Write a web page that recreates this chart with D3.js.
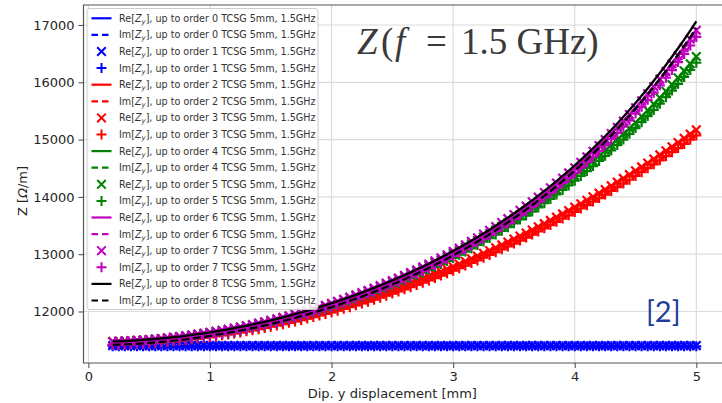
<!DOCTYPE html>
<html>
<head>
<meta charset="utf-8">
<script src="https://d3js.org/d3.v7.min.js"></script>
<style>
  body { margin: 0; background: #fff; }
  svg { display: block; }
</style>
</head>
<body>
<svg id="chart" width="722" height="403"></svg>
<script>
// dipole y displacement [mm]
const dispY = [
  0.20, 0.25, 0.30, 0.35, 0.40, 0.45, 0.50, 0.55, 0.60, 0.65,
  0.70, 0.75, 0.80, 0.85, 0.90, 0.95, 1.00, 1.05, 1.10, 1.15,
  1.20, 1.25, 1.30, 1.35, 1.40, 1.45, 1.50, 1.55, 1.60, 1.65,
  1.70, 1.75, 1.80, 1.85, 1.90, 1.95, 2.00, 2.05, 2.10, 2.15,
  2.20, 2.25, 2.30, 2.35, 2.40, 2.45, 2.50, 2.55, 2.60, 2.65,
  2.70, 2.75, 2.80, 2.85, 2.90, 2.95, 3.00, 3.05, 3.10, 3.15,
  3.20, 3.25, 3.30, 3.35, 3.40, 3.45, 3.50, 3.55, 3.60, 3.65,
  3.70, 3.75, 3.80, 3.85, 3.90, 3.95, 4.00, 4.05, 4.10, 4.15,
  4.20, 4.25, 4.30, 4.35, 4.40, 4.45, 4.50, 4.55, 4.60, 4.65,
  4.70, 4.75, 4.80, 4.85, 4.90, 4.95, 5.00
];

// order 0 / 1 (blue)
const blueRe = [
  11405, 11405, 11405, 11405, 11405, 11405, 11405, 11405, 11405, 11405,
  11405, 11405, 11405, 11405, 11405, 11405, 11405, 11405, 11405, 11405,
  11405, 11405, 11405, 11405, 11405, 11405, 11405, 11405, 11405, 11405,
  11405, 11405, 11405, 11405, 11405, 11405, 11405, 11405, 11405, 11405,
  11405, 11405, 11405, 11405, 11405, 11405, 11405, 11405, 11405, 11405,
  11405, 11405, 11405, 11405, 11405, 11405, 11405, 11405, 11405, 11405,
  11405, 11405, 11405, 11405, 11405, 11405, 11405, 11405, 11405, 11405,
  11405, 11405, 11405, 11405, 11405, 11405, 11405, 11405, 11405, 11405,
  11405, 11405, 11405, 11405, 11405, 11405, 11405, 11405, 11405, 11405,
  11405, 11405, 11405, 11405, 11405, 11405, 11405
];
const blueIm = [
  11392, 11392, 11392, 11392, 11392, 11392, 11392, 11392, 11392, 11392,
  11392, 11392, 11392, 11392, 11392, 11392, 11392, 11392, 11392, 11392,
  11392, 11392, 11392, 11392, 11392, 11392, 11392, 11392, 11392, 11392,
  11392, 11392, 11392, 11392, 11392, 11392, 11392, 11392, 11392, 11392,
  11392, 11392, 11392, 11392, 11392, 11392, 11392, 11392, 11392, 11392,
  11392, 11392, 11392, 11392, 11392, 11392, 11392, 11392, 11392, 11392,
  11392, 11392, 11392, 11392, 11392, 11392, 11392, 11392, 11392, 11392,
  11392, 11392, 11392, 11392, 11392, 11392, 11392, 11392, 11392, 11392,
  11392, 11392, 11392, 11392, 11392, 11392, 11392, 11392, 11392, 11392,
  11392, 11392, 11392, 11392, 11392, 11392, 11392
];

// order 2 / 3 (red)
const redRe = [
  11476, 11479, 11483, 11488, 11493, 11499, 11506, 11514, 11522, 11531,
  11541, 11552, 11563, 11575, 11588, 11601, 11615, 11630, 11646, 11662,
  11679, 11697, 11715, 11735, 11755, 11775, 11797, 11819, 11842, 11866,
  11890, 11915, 11941, 11968, 11995, 12023, 12052, 12081, 12112, 12143,
  12175, 12207, 12240, 12274, 12309, 12345, 12381, 12418, 12456, 12494,
  12533, 12573, 12614, 12656, 12698, 12741, 12785, 12829, 12875, 12921,
  12967, 13015, 13063, 13112, 13162, 13213, 13264, 13316, 13369, 13423,
  13478, 13533, 13589, 13646, 13703, 13762, 13821, 13881, 13941, 14003,
  14065, 14128, 14192, 14257, 14322, 14388, 14455, 14523, 14592, 14661,
  14732, 14803, 14875, 14947, 15021, 15095, 15170
];
const redIm = [
  11416, 11419, 11423, 11428, 11433, 11439, 11446, 11454, 11461, 11470,
  11480, 11491, 11502, 11514, 11527, 11540, 11554, 11568, 11584, 11600,
  11617, 11635, 11653, 11672, 11692, 11712, 11734, 11756, 11778, 11802,
  11826, 11851, 11876, 11903, 11930, 11957, 11986, 12015, 12046, 12076,
  12108, 12140, 12172, 12206, 12241, 12276, 12312, 12349, 12386, 12424,
  12462, 12502, 12543, 12584, 12626, 12668, 12712, 12755, 12801, 12846,
  12892, 12940, 12987, 13036, 13085, 13136, 13186, 13238, 13290, 13343,
  13398, 13452, 13508, 13564, 13621, 13679, 13737, 13797, 13856, 13918,
  13979, 14041, 14105, 14169, 14233, 14299, 14365, 14432, 14501, 14569,
  14639, 14710, 14781, 14852, 14925, 14999, 15073
];

// order 4 / 5 (green)
const greenRe = [
  11477, 11480, 11485, 11490, 11496, 11503, 11511, 11519, 11528, 11539,
  11550, 11562, 11575, 11589, 11602, 11617, 11634, 11651, 11668, 11687,
  11706, 11726, 11747, 11769, 11792, 11816, 11840, 11866, 11892, 11919,
  11947, 11976, 12006, 12036, 12068, 12100, 12134, 12168, 12203, 12240,
  12277, 12315, 12354, 12394, 12435, 12477, 12520, 12565, 12610, 12656,
  12703, 12752, 12801, 12852, 12903, 12956, 13010, 13066, 13122, 13180,
  13239, 13299, 13360, 13423, 13487, 13552, 13619, 13688, 13757, 13828,
  13901, 13975, 14051, 14129, 14208, 14288, 14371, 14455, 14541, 14629,
  14719, 14810, 14904, 15000, 15097, 15197, 15299, 15403, 15510, 15619,
  15730, 15844, 15960, 16079, 16200, 16324, 16451
];
const greenIm = [
  11417, 11420, 11425, 11430, 11436, 11443, 11451, 11459, 11467, 11478,
  11489, 11501, 11514, 11528, 11541, 11556, 11572, 11589, 11606, 11625,
  11644, 11663, 11684, 11706, 11729, 11753, 11776, 11802, 11828, 11855,
  11882, 11911, 11941, 11970, 12002, 12034, 12067, 12101, 12136, 12172,
  12209, 12247, 12285, 12325, 12365, 12407, 12449, 12494, 12539, 12584,
  12631, 12679, 12728, 12778, 12829, 12881, 12935, 12990, 13045, 13103,
  13161, 13221, 13281, 13343, 13407, 13471, 13538, 13606, 13674, 13744,
  13817, 13890, 13965, 14042, 14121, 14200, 14282, 14365, 14450, 14537,
  14627, 14717, 14810, 14905, 15001, 15100, 15201, 15304, 15410, 15518,
  15627, 15740, 15855, 15973, 16093, 16215, 16341
];

// order 6 / 7 (magenta)
const magRe = [
  11477, 11480, 11485, 11490, 11496, 11503, 11511, 11520, 11529, 11540,
  11551, 11563, 11576, 11590, 11604, 11619, 11636, 11653, 11671, 11689,
  11709, 11730, 11751, 11773, 11796, 11820, 11845, 11871, 11898, 11925,
  11954, 11983, 12013, 12045, 12077, 12109, 12143, 12178, 12214, 12251,
  12290, 12329, 12368, 12409, 12452, 12495, 12540, 12585, 12631, 12679,
  12728, 12778, 12829, 12882, 12936, 12990, 13048, 13105, 13164, 13225,
  13287, 13350, 13415, 13482, 13551, 13620, 13692, 13765, 13840, 13916,
  13995, 14076, 14158, 14243, 14330, 14418, 14509, 14603, 14698, 14796,
  14897, 15000, 15105, 15213, 15324, 15438, 15556, 15675, 15798, 15925,
  16054, 16187, 16324, 16464, 16608, 16756, 16908
];
const magIm = [
  11417, 11420, 11425, 11430, 11436, 11443, 11451, 11459, 11468, 11479,
  11490, 11502, 11515, 11529, 11543, 11557, 11574, 11591, 11609, 11627,
  11647, 11667, 11688, 11710, 11733, 11756, 11781, 11807, 11834, 11860,
  11889, 11918, 11948, 11979, 12011, 12043, 12076, 12111, 12147, 12183,
  12222, 12260, 12299, 12340, 12382, 12425, 12469, 12514, 12559, 12607,
  12655, 12705, 12755, 12808, 12861, 12915, 12972, 13029, 13087, 13147,
  13209, 13271, 13335, 13402, 13470, 13538, 13610, 13682, 13756, 13831,
  13909, 13990, 14071, 14155, 14241, 14328, 14418, 14511, 14606, 14702,
  14802, 14904, 15008, 15115, 15225, 15337, 15454, 15572, 15694, 15819,
  15947, 16079, 16214, 16353, 16495, 16642, 16792
];

// order 8 (black)
const blackRe = [
  11477, 11480, 11485, 11490, 11496, 11503, 11511, 11520, 11529, 11540,
  11551, 11563, 11576, 11590, 11604, 11619, 11636, 11653, 11671, 11689,
  11709, 11730, 11751, 11773, 11796, 11820, 11845, 11871, 11898, 11925,
  11954, 11983, 12013, 12045, 12077, 12110, 12144, 12179, 12215, 12252,
  12291, 12330, 12370, 12411, 12454, 12497, 12542, 12588, 12634, 12683,
  12732, 12782, 12834, 12887, 12942, 12997, 13055, 13113, 13173, 13235,
  13298, 13362, 13428, 13496, 13566, 13637, 13710, 13785, 13862, 13940,
  14021, 14104, 14188, 14276, 14365, 14456, 14550, 14647, 14746, 14847,
  14952, 15059, 15168, 15281, 15397, 15516, 15639, 15764, 15893, 16026,
  16162, 16302, 16446, 16594, 16746, 16903, 17064
];
const blackIm = [
  11417, 11420, 11425, 11430, 11436, 11443, 11451, 11459, 11468, 11479,
  11490, 11502, 11515, 11529, 11543, 11557, 11574, 11591, 11609, 11627,
  11647, 11667, 11688, 11710, 11733, 11756, 11781, 11807, 11834, 11860,
  11889, 11918, 11948, 11979, 12011, 12044, 12077, 12112, 12148, 12184,
  12223, 12261, 12301, 12342, 12384, 12427, 12471, 12517, 12562, 12611,
  12659, 12709, 12760, 12813, 12867, 12922, 12979, 13037, 13096, 13157,
  13220, 13283, 13348, 13416, 13485, 13555, 13628, 13702, 13778, 13855,
  13935, 14018, 14101, 14188, 14276, 14366, 14459, 14555, 14653, 14753,
  14857, 14963, 15071, 15183, 15298, 15415, 15537, 15661, 15789, 15920,
  16055, 16194, 16336, 16483, 16633, 16789, 16948
];

const xTicks = [0, 1, 2, 3, 4, 5];
const yTicks = [12000, 13000, 14000, 15000, 16000, 17000];

// series in plotting order
const seriesValues = [blueRe, blueIm, blueRe, blueIm, redRe, redIm, redRe, redIm,
  greenRe, greenIm, greenRe, greenIm, magRe, magIm, magRe, magIm, blackRe, blackIm];
const seriesPart = ['Re', 'Im', 'Re', 'Im', 'Re', 'Im', 'Re', 'Im', 'Re', 'Im',
  'Re', 'Im', 'Re', 'Im', 'Re', 'Im', 'Re', 'Im'];
const seriesOrder = [0, 0, 1, 1, 2, 2, 3, 3, 4, 4, 5, 5, 6, 6, 7, 7, 8, 8];
const seriesColor = ['#0000ff', '#0000ff', '#0000ff', '#0000ff',
  '#ff0000', '#ff0000', '#ff0000', '#ff0000',
  '#008000', '#008000', '#008000', '#008000',
  '#bf00bf', '#bf00bf', '#bf00bf', '#bf00bf',
  '#000000', '#000000'];
const seriesStyle = ['solid', 'dashed', 'x', 'plus', 'solid', 'dashed', 'x', 'plus',
  'solid', 'dashed', 'x', 'plus', 'solid', 'dashed', 'x', 'plus', 'solid', 'dashed'];

const svg = d3.select('#chart');

const x = d3.scaleLinear().domain([-0.04, 5.24]).range([83.5, 725.5]);
const y = d3.scaleLinear().domain([11101, 17349]).range([363, 5]);

// grid
svg.append('g').selectAll('line').data(xTicks).join('line')
  .attr('x1', d => x(d)).attr('x2', d => x(d))
  .attr('y1', 5).attr('y2', 363)
  .attr('stroke', '#dcdcdc').attr('stroke-width', 1.2);
svg.append('g').selectAll('line').data(yTicks).join('line')
  .attr('x1', 83.5).attr('x2', 725.5)
  .attr('y1', d => y(d)).attr('y2', d => y(d))
  .attr('stroke', '#dcdcdc').attr('stroke-width', 1.2);

// series
const markerPath = {
  x: 'M-4.3,-4.3L4.3,4.3M-4.3,4.3L4.3,-4.3',
  plus: 'M-5,0H5M0,-5V5'
};
const line = d3.line()
  .x((d, i) => x(dispY[i]))
  .y(d => y(d));

const plot = svg.append('g');
seriesValues.forEach((vals, k) => {
  const style = seriesStyle[k];
  const col = seriesColor[k];
  if (style === 'solid' || style === 'dashed') {
    plot.append('path')
      .attr('d', line(vals))
      .attr('fill', 'none')
      .attr('stroke', col)
      .attr('stroke-width', 2.3)
      .attr('stroke-dasharray', style === 'dashed' ? '8,3.5' : null);
  } else {
    plot.append('g').selectAll('path').data(vals).join('path')
      .attr('transform', (d, i) => `translate(${x(dispY[i])},${y(d)})`)
      .attr('d', markerPath[style])
      .attr('fill', 'none')
      .attr('stroke', col)
      .attr('stroke-width', 2.2);
  }
});

// spines
svg.append('path')
  .attr('d', 'M725.5,5H83.5V363H725.5')
  .attr('fill', 'none')
  .attr('stroke', '#555')
  .attr('stroke-width', 1.2);

// axes
const xAxis = svg.append('g')
  .attr('transform', 'translate(0,363)')
  .call(d3.axisBottom(x).tickValues(xTicks).tickSize(5).tickPadding(4).tickFormat(d3.format('d')));
const yAxis = svg.append('g')
  .attr('transform', 'translate(83.5,0)')
  .call(d3.axisLeft(y).tickValues(yTicks).tickSize(5).tickPadding(4).tickFormat(d3.format('d')));
[xAxis, yAxis].forEach(a => {
  a.select('.domain').remove();
  a.selectAll('.tick line').attr('stroke', '#555').attr('stroke-width', 1.1);
  a.selectAll('.tick text')
    .attr('fill', '#262626')
    .style('font-family', 'DejaVu Sans')
    .style('font-size', '13px');
});

svg.append('text')
  .attr('x', x(2.5)).attr('y', 398)
  .attr('text-anchor', 'middle')
  .attr('fill', '#262626')
  .style('font-family', 'DejaVu Sans')
  .style('font-size', '13px')
  .text('Dip. y displacement [mm]');

const yl = svg.append('text')
  .attr('transform', 'translate(27,191) rotate(-90)')
  .attr('text-anchor', 'middle')
  .attr('fill', '#262626')
  .style('font-family', 'DejaVu Sans')
  .style('font-size', '13px');
yl.append('tspan').text('Z [');
yl.append('tspan').attr('font-style', 'italic').text('Ω');
yl.append('tspan').text('/m]');

// legend
const lg = svg.append('g');
lg.append('rect')
  .attr('x', 87).attr('y', 8.5)
  .attr('width', 231).attr('height', 301)
  .attr('rx', 3)
  .attr('fill', '#fff').attr('fill-opacity', 0.85)
  .attr('stroke', '#cccccc').attr('stroke-width', 1);

seriesValues.forEach((vals, k) => {
  const cy = 18.3 + k * 16.6;
  const style = seriesStyle[k];
  const col = seriesColor[k];
  if (style === 'solid' || style === 'dashed') {
    lg.append('line')
      .attr('x1', 91.5).attr('x2', 111.5)
      .attr('y1', cy).attr('y2', cy)
      .attr('stroke', col).attr('stroke-width', 2.2)
      .attr('stroke-dasharray', style === 'dashed' ? '6.5,4' : null);
  } else {
    lg.append('path')
      .attr('transform', `translate(101.5,${cy})`)
      .attr('d', markerPath[style])
      .attr('fill', 'none').attr('stroke', col).attr('stroke-width', 2);
  }
  const t = lg.append('text')
    .attr('x', 119).attr('y', cy + 3.5)
    .attr('fill', '#333')
    .style('font-family', 'DejaVu Sans')
    .style('font-size', '9.6px');
  t.append('tspan').text(seriesPart[k] + '[');
  t.append('tspan').attr('font-style', 'italic').text('Z');
  t.append('tspan').attr('dy', 2).style('font-size', '7px').attr('font-style', 'italic').text('y');
  t.append('tspan').attr('dy', -2).text('], up to order ' + seriesOrder[k] + ' TCSG 5mm, 1.5GHz');
});

// annotations
const title = svg.append('g')
  .attr('fill', '#3a3a3a')
  .style('font-family', 'Liberation Serif')
  .style('font-size', '37px');
title.append('text').attr('x', 357).attr('y', 54).attr('font-style', 'italic').text('Z');
title.append('text').attr('x', 381).attr('y', 54).text('(');
title.append('text').attr('x', 395).attr('y', 54).attr('font-style', 'italic').text('f');
title.append('text').attr('x', 426).attr('y', 54).text('=');
title.append('text').attr('x', 461).attr('y', 54).text('1.5 GHz)');

svg.append('text')
  .attr('x', 646).attr('y', 322)
  .attr('fill', '#1f3c9a')
  .style('font-family', 'Lato')
  .style('font-size', '29px')
  .text('[2]');
</script>
</body>
</html>
